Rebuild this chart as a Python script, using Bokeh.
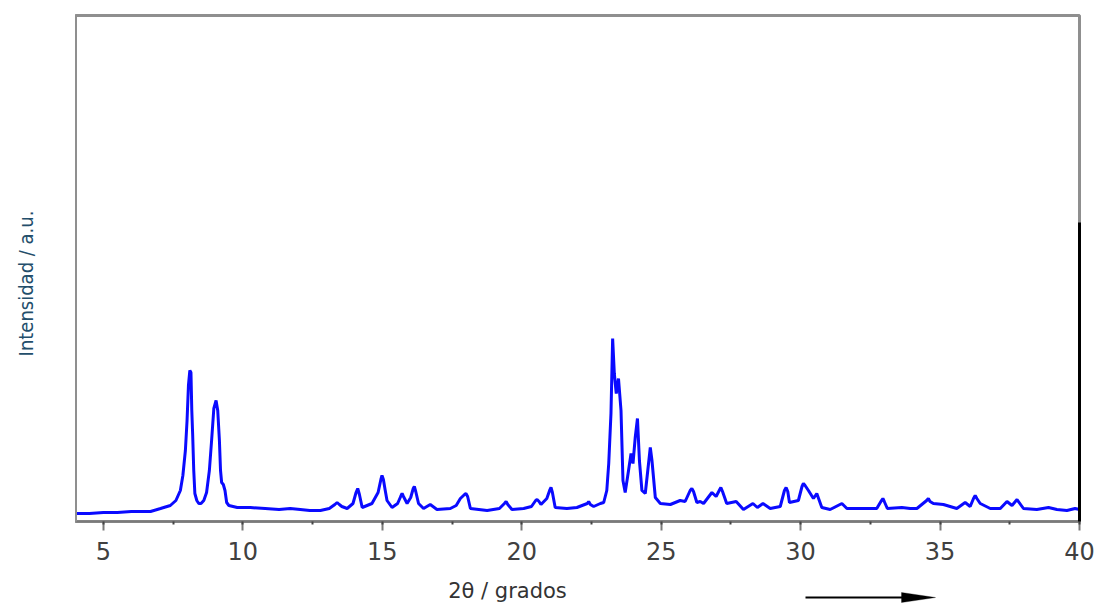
import math
from bokeh.plotting import figure
from bokeh.layouts import row, column
from bokeh.models import Range1d, SingleIntervalTicker, LinearAxis, Arrow, PolyAnnotation, Label
from bokeh.embed import file_html
from bokeh.resources import INLINE

# 2-theta (degrees) and intensity (a.u.)
two_theta = [4.00, 4.50, 5.00, 5.50, 6.00, 6.50, 6.69, 7.05, 7.40, 7.60, 7.76, 7.85, 7.94, 8.00,
             8.05, 8.10, 8.14, 8.17, 8.20, 8.24, 8.28, 8.35, 8.42, 8.50, 8.60, 8.70, 8.80, 8.88,
             8.96, 9.04, 9.10, 9.16, 9.20, 9.24, 9.30, 9.36, 9.42, 9.50, 9.80, 10.27, 10.80,
             11.30, 11.70, 12.06, 12.40, 12.78,
             13.10, 13.30, 13.38, 13.46, 13.55, 13.74, 13.95, 14.06, 14.12, 14.18, 14.28, 14.63,
             14.85, 14.95, 14.99, 15.04, 15.10, 15.17,
             15.35, 15.55, 15.66, 15.71, 15.76, 15.89, 16.02, 16.11, 16.15, 16.20, 16.30, 16.48,
             16.72, 16.96, 17.44, 17.65,
             17.80, 17.95, 18.00, 18.06, 18.16, 18.76, 19.20, 19.38, 19.44, 19.50, 19.65, 20.07,
             20.35, 20.50, 20.55, 20.62, 20.69, 20.90,
             21.00, 21.05, 21.10, 21.20, 21.62, 21.98, 22.35, 22.40, 22.46, 22.58, 22.82, 22.94,
             23.05, 23.12, 23.20, 23.26,
             23.32, 23.39, 23.47, 23.56, 23.63, 23.71, 23.83, 23.92, 23.99, 24.07, 24.15, 24.22,
             24.31, 24.43, 24.52, 24.61, 24.67, 24.79, 24.97, 25.33, 25.68, 25.86, 26.04, 26.10,
             26.16, 26.28,
             26.40, 26.52, 26.82, 26.97, 27.10, 27.14, 27.20, 27.35, 27.69, 27.95, 28.29, 28.45,
             28.65, 28.91,
             29.27, 29.42, 29.48, 29.54, 29.60, 29.92, 30.05, 30.10, 30.16, 30.28, 30.46, 30.58,
             30.76, 31.06, 31.48, 31.66,
             32.37, 32.73, 32.90, 32.95, 33.00, 33.11, 33.63, 33.93, 34.17, 34.52, 34.58, 34.64,
             34.76, 35.12, 35.60, 35.90,
             36.08, 36.20, 36.26, 36.32, 36.44, 36.80, 37.16, 37.40, 37.58, 37.76, 37.99, 38.47,
             38.89, 39.19, 39.55, 39.84, 40.00]
intensity = [80, 80, 90, 90, 100, 100, 100, 130, 160, 210, 310, 460, 710, 1010,
             1360, 1510, 1490, 1110, 880, 510, 280, 210, 180, 180, 210, 290, 510, 810,
             1130, 1210, 1110, 810, 510, 390, 370, 310, 190, 160, 140, 140, 130,
             120, 130, 120, 110, 110,
             130, 170, 190, 170, 150, 130, 180, 290, 330, 270, 140, 180,
             290, 420, 460, 420, 320, 210,
             140, 180, 250, 280, 250, 180, 240, 330, 350, 300, 180, 130,
             170, 120, 130, 160,
             230, 270, 280, 250, 130, 110, 130, 180, 200, 170, 120, 130,
             150, 210, 220, 200, 170, 230,
             310, 340, 290, 140, 130, 140, 180, 200, 170, 150, 180, 190,
             310, 580, 1080, 1830,
             1480, 1280, 1430, 1110, 410, 290, 510, 680, 580, 840, 1030, 610,
             310, 280, 510, 740, 610, 240, 180, 170, 210, 200, 310, 330,
             300, 190,
             200, 180, 290, 250, 320, 340, 300, 180, 200, 120, 180, 140,
             180, 130,
             150, 310, 340, 300, 190, 210, 350, 380, 360, 310, 230, 280,
             140, 120, 180, 130,
             130, 130, 210, 230, 200, 130, 140, 130, 130, 210, 230, 200,
             180, 170, 130, 190,
             150, 230, 260, 230, 180, 130, 130, 200, 160, 220, 130, 120,
             140, 120, 110, 130, 120]
x_tick_interval = 5

main = figure(width=1028, height=570, output_backend="svg", toolbar_location=None,
              x_range=Range1d(4, 40), y_range=Range1d(0, 5060),
              min_border_left=0, min_border_right=24, min_border_top=15, min_border_bottom=49)
main.grid.visible = False
main.background_fill_color = "white"
main.border_fill_color = "white"
main.outline_line_color = "#8f8f8f"
main.outline_line_width = 3

main.line(two_theta, intensity, line_color="#0a0aff", line_width=3)

xa = main.xaxis[0]
xa.ticker = SingleIntervalTicker(interval=x_tick_interval, num_minor_ticks=2)
xa.axis_line_color = "#7a7a7a"
xa.axis_line_width = 2
xa.major_tick_line_color = "#7a7a7a"
xa.major_tick_line_width = 2
xa.major_tick_out = 9
xa.major_tick_in = 0
xa.minor_tick_line_color = "#444444"
xa.minor_tick_line_width = 2
xa.minor_tick_out = 3
xa.minor_tick_in = 0
xa.major_label_text_font = "DejaVu Sans"
xa.major_label_text_font_size = "24px"
xa.major_label_text_color = "#404040"
xa.major_label_standoff = 11

ya = main.yaxis[0]
ya.ticker = []
ya.axis_line_color = "#8f8f8f"
ya.axis_line_width = 3
ya.major_tick_out = 0
ya.minor_tick_out = 0
ya.major_label_text_font_size = "0px"

right = LinearAxis(bounds=(0, 2990), ticker=[], axis_line_color="black", axis_line_width=3,
                   major_tick_out=0, minor_tick_out=0, major_label_text_font_size="0px")
main.add_layout(right, "right")

# left strip holding the y-axis title
left = figure(width=75, height=606, output_backend="svg", toolbar_location=None,
              x_range=Range1d(0, 1), y_range=Range1d(0, 1),
              x_axis_location=None, y_axis_location=None,
              min_border=0, outline_line_color=None)
left.grid.visible = False
left.add_layout(Label(x=25, y=323, x_units="screen", y_units="screen",
                      text="Intensidad / a.u.", angle=math.pi / 2,
                      text_align="center", text_baseline="middle",
                      text_font="DejaVu Sans Condensed", text_font_size="20px",
                      text_color="#234e6b"))

# bottom strip holding the x-axis title and the direction arrow
bottom = figure(width=1028, height=36, output_backend="svg", toolbar_location=None,
                x_range=Range1d(0, 1), y_range=Range1d(0, 1),
                x_axis_location=None, y_axis_location=None,
                min_border=0, outline_line_color=None)
bottom.grid.visible = False
bottom.add_layout(Label(x=432, y=16, x_units="screen", y_units="screen",
                        text="2θ / grados", text_align="center", text_baseline="middle",
                        text_font="DejaVu Sans", text_font_size="21px",
                        text_color="#333333"))
bottom.add_layout(Arrow(end=None, x_start=730, y_start=9, x_end=835, y_end=9,
                        start_units="screen", end_units="screen",
                        line_color="black", line_width=2))
bottom.add_layout(PolyAnnotation(xs=[826, 860, 826], ys=[14, 9, 4],
                                 xs_units="screen", ys_units="screen",
                                 fill_color="black", fill_alpha=1.0,
                                 line_color="black", line_width=1))

layout = row(left, column(main, bottom, spacing=0), spacing=0)

open("out.html", "w").write(file_html(layout, INLINE))
